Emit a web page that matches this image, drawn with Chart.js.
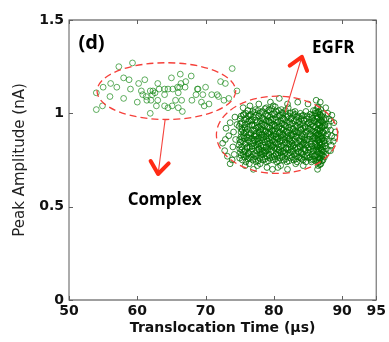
<!DOCTYPE html>
<html><head><meta charset="utf-8">
<script src="https://cdn.jsdelivr.net/npm/chart.js@4/dist/chart.umd.min.js"></script>
<style>html,body{margin:0;padding:0;background:#fff}</style>
</head><body>
<canvas id="c" width="389" height="342" style="width:389px;height:342px;display:block"></canvas>
<script>
const xTicks=[50,60,70,80,90,95];
const yTicks=[0,0.5,1,1.5];
const yTickLabels=['0','0.5','1','1.5'];
const xTitle='Translocation Time (µs)';
const yTitle='Peak Amplitude (nA)';
const complexPoints=[[57.3,1.25],[59.3,1.27],[54.0,1.11],[55.0,1.14],[54.0,1.02],[54.9,1.04],[56.1,1.16],[57.0,1.14],[56.0,1.09],[58.0,1.08],[58.8,1.18],[59.0,1.13],[60.0,1.06],[60.2,1.16],[61.1,1.18],[60.6,1.12],[61.3,1.09],[61.4,1.07],[61.9,1.12],[62.2,1.10],[62.0,1.07],[61.9,1.00],[62.8,1.04],[63.0,1.07],[63.2,1.13],[64.0,1.13],[64.0,1.10],[64.0,1.04],[65.0,1.19],[65.2,1.13],[65.1,1.04],[65.6,1.07],[66.0,1.11],[66.3,1.21],[66.4,1.16],[66.2,1.14],[66.0,1.03],[66.5,1.07],[66.6,1.01],[67.0,1.14],[67.9,1.20],[68.0,1.07],[68.6,1.10],[68.9,1.13],[69.4,1.06],[69.6,1.10],[70.0,1.14],[69.8,1.04],[70.9,1.10],[71.9,1.09],[72.2,1.17],[72.9,1.16],[73.4,1.08],[73.9,1.24],[74.6,1.12],[58.0,1.19],[63.0,1.16],[64.5,1.13],[65.9,1.14],[68.8,1.13],[70.5,1.05],[71.7,1.10],[62.3,1.12],[64.5,1.03],[72.7,1.07],[67.1,1.17],[60.8,1.10],[62.6,1.11]];
const egfrPoints=[
[72.5,0.84],[72.8,0.80],[73.2,0.77],[73.0,0.92],[73.6,0.95],[73.4,0.88],[74.0,0.82],[73.9,0.75],[74.3,0.98],[74.1,0.90],[73.6,0.73],[74.4,0.86],[72.9,0.86],[74.2,0.78],[74.6,0.94],
[75.8,0.72],[77.0,0.70],[78.0,0.73],[79.0,0.71],[79.8,0.70],[81.0,0.72],[82.0,0.70],[83.2,0.73],[84.3,0.72],[85.5,0.74],[86.4,0.70],[86.5,0.72],[86.6,0.75],[76.4,0.73],[77.6,0.72],[80.6,0.71],
[88.3,0.80],[88.7,0.85],[89.0,0.90],[88.8,0.95],[88.5,0.99],[88.9,0.87],
[75.5,1.03],[76.5,1.04],[77.8,1.05],[79.5,1.06],[80.8,1.08],[82.0,1.05],[83.5,1.06],[85.0,1.05],[86.2,1.07],[86.8,1.06],[87.6,1.03],
[75.0,0.76],[75.1,0.79],[74.9,0.83],[75.0,0.86],[75.2,0.90],[74.9,0.93],[75.1,0.97],[75.0,0.81],
[75.4,0.75],[75.5,0.78],[75.3,0.82],[75.4,0.85],[75.6,0.88],[75.4,0.91],[75.3,0.95],[75.5,0.99],[75.4,0.87],
[75.9,0.74],[76.0,0.77],[75.8,0.80],[75.9,0.84],[76.1,0.87],[75.9,0.90],[75.8,0.94],[76.0,0.97],[75.9,1.00],[76.1,0.82],[75.8,0.92],
[76.4,0.76],[76.3,0.79],[76.5,0.82],[76.4,0.85],[76.6,0.89],[76.3,0.93],[76.4,0.96],[76.5,0.99],[76.2,0.78],[76.4,0.87],
[76.9,0.75],[77.0,0.78],[76.8,0.81],[76.9,0.84],[77.1,0.88],[76.9,0.91],[76.8,0.94],[77.0,0.98],[76.9,1.01],[77.1,0.86],[76.7,0.96],
[77.4,0.74],[77.3,0.77],[77.5,0.80],[77.4,0.83],[77.6,0.86],[77.3,0.89],[77.4,0.92],[77.5,0.95],[77.4,0.99],[77.3,1.02],[77.6,0.82],[77.4,0.88],
[77.9,0.76],[78.0,0.79],[77.8,0.81],[77.9,0.84],[78.1,0.87],[77.9,0.90],[77.8,0.93],[78.0,0.96],[77.9,1.00],[78.1,0.78],[77.7,0.85],[78.0,0.91],
[78.4,0.75],[78.3,0.78],[78.5,0.80],[78.4,0.83],[78.6,0.86],[78.3,0.89],[78.4,0.91],[78.5,0.94],[78.4,0.97],[78.3,1.01],[78.6,0.82],[78.4,0.87],[78.2,0.93],
[78.9,0.74],[79.0,0.77],[78.8,0.80],[78.9,0.82],[79.1,0.85],[78.9,0.88],[78.8,0.90],[79.0,0.93],[78.9,0.96],[79.1,0.99],[78.9,1.03],[78.7,0.79],[79.0,0.86],
[79.4,0.76],[79.3,0.78],[79.5,0.81],[79.4,0.84],[79.6,0.87],[79.3,0.89],[79.4,0.92],[79.5,0.95],[79.4,0.98],[79.3,1.02],[79.6,0.83],[79.4,0.90],[79.2,0.96],
[79.9,0.75],[80.0,0.77],[79.8,0.80],[79.9,0.83],[80.1,0.86],[79.9,0.88],[79.8,0.91],[80.0,0.94],[79.9,0.97],[80.1,1.00],[79.9,1.04],[79.7,0.82],[80.0,0.89],
[80.4,0.74],[80.3,0.78],[80.5,0.81],[80.4,0.84],[80.6,0.86],[80.3,0.89],[80.4,0.92],[80.5,0.95],[80.4,0.98],[80.3,1.01],[80.6,0.79],[80.4,0.87],[80.2,0.93],
[80.9,0.76],[81.0,0.79],[80.8,0.82],[80.9,0.85],[81.1,0.87],[80.9,0.90],[80.8,0.93],[81.0,0.96],[80.9,0.99],[81.1,1.02],[80.7,0.80],[81.0,0.88],
[81.4,0.75],[81.3,0.77],[81.5,0.80],[81.4,0.83],[81.6,0.86],[81.3,0.89],[81.4,0.91],[81.5,0.94],[81.4,0.97],[81.3,1.00],[81.6,0.84],[81.2,0.92],
[81.9,0.74],[82.0,0.78],[81.8,0.81],[81.9,0.84],[82.1,0.87],[81.9,0.90],[81.8,0.93],[82.0,0.95],[81.9,0.98],[82.1,1.03],[81.7,0.79],[82.0,0.88],
[82.4,0.76],[82.3,0.79],[82.5,0.82],[82.4,0.85],[82.6,0.88],[82.3,0.91],[82.4,0.94],[82.5,0.97],[82.4,1.00],[82.6,0.81],[82.2,0.86],
[82.9,0.75],[83.0,0.78],[82.8,0.80],[82.9,0.83],[83.1,0.86],[82.9,0.89],[82.8,0.92],[83.0,0.96],[82.9,0.99],[83.1,1.01],[82.7,0.84],[83.0,0.90],
[83.4,0.74],[83.3,0.77],[83.5,0.81],[83.4,0.84],[83.6,0.87],[83.3,0.90],[83.4,0.93],[83.5,0.95],[83.4,0.98],[83.6,0.79],[83.2,0.88],
[83.9,0.76],[84.0,0.79],[83.8,0.82],[83.9,0.85],[84.1,0.88],[83.9,0.91],[83.8,0.94],[84.0,0.97],[83.9,1.00],[84.1,0.83],
[84.3,0.75],[84.2,0.78],[84.4,0.81],[84.3,0.84],[84.5,0.87],[84.2,0.89],[84.3,0.92],[84.4,0.96],[84.3,0.99],[84.5,0.86],
[84.7,0.74],[84.8,0.77],[84.6,0.80],[84.7,0.83],[84.9,0.86],[84.7,0.90],[84.6,0.93],[84.8,0.97],[84.7,1.01],
[85.1,0.76],[85.0,0.79],[85.2,0.82],[85.1,0.86],[85.3,0.89],[85.0,0.92],[85.1,0.95],[85.2,0.98],
[85.5,0.75],[85.6,0.78],[85.4,0.81],[85.5,0.85],[85.7,0.88],[85.5,0.91],[85.4,0.94],[85.6,0.99],
[85.9,0.77],[85.8,0.80],[86.0,0.84],[85.9,0.87],[86.0,0.90],[85.8,0.93],[85.9,0.96],[86.0,1.00],
[86.3,0.75],[86.2,0.78],[86.4,0.80],[86.3,0.83],[86.4,0.86],[86.2,0.88],[86.3,0.91],[86.4,0.94],[86.3,0.97],[86.2,1.00],[86.4,1.03],[86.3,0.82],
[86.6,0.74],[86.7,0.76],[86.5,0.79],[86.6,0.81],[86.7,0.84],[86.5,0.87],[86.6,0.89],[86.7,0.92],[86.6,0.95],[86.5,0.98],[86.6,1.01],[86.7,0.86],
[86.9,0.73],[86.8,0.76],[87.0,0.78],[86.9,0.81],[86.8,0.83],[87.0,0.86],[86.9,0.88],[86.8,0.91],[87.0,0.93],[86.9,0.96],[86.8,0.99],[86.9,1.02],
[87.2,0.75],[87.3,0.77],[87.1,0.80],[87.2,0.82],[87.3,0.85],[87.1,0.87],[87.2,0.90],[87.3,0.93],[87.2,0.95],[87.1,0.98],[87.2,1.00],
[87.6,0.78],[87.7,0.81],[87.5,0.84],[87.6,0.88],[87.7,0.91],[87.5,0.94],[87.6,0.97],[87.7,0.86],
[88.0,0.80],[88.1,0.85],[87.9,0.89],[88.0,0.93],[88.1,0.97],[87.9,1.00],
[88.4,0.83],[88.5,0.88],[88.3,0.91],[88.4,0.96],
[75.2,0.775],[75.3,0.805],[75.1,0.845],[75.2,0.875],[75.3,0.915],[75.1,0.945],[75.2,0.985],
[75.7,0.765],[75.6,0.795],[75.8,0.835],[75.7,0.865],[75.6,0.895],[75.8,0.925],[75.7,0.965],[75.6,0.995],
[76.2,0.755],[76.3,0.785],[76.1,0.815],[76.2,0.855],[76.3,0.885],[76.1,0.915],[76.2,0.955],[76.3,0.985],[76.2,1.015],
[76.7,0.765],[76.6,0.795],[76.8,0.825],[76.7,0.865],[76.6,0.895],[76.8,0.935],[76.7,0.965],[76.6,0.995],
[77.2,0.755],[77.3,0.785],[77.1,0.825],[77.2,0.855],[77.3,0.875],[77.1,0.905],[77.2,0.935],[77.3,0.965],[77.2,1.005],
[77.7,0.745],[77.6,0.775],[77.8,0.805],[77.7,0.835],[77.6,0.865],[77.8,0.895],[77.7,0.925],[77.6,0.955],[77.8,0.985],[77.7,1.015],
[78.2,0.765],[78.3,0.795],[78.1,0.825],[78.2,0.855],[78.3,0.885],[78.1,0.915],[78.2,0.945],[78.3,0.975],[78.2,1.005],
[78.7,0.755],[78.6,0.785],[78.8,0.815],[78.7,0.845],[78.6,0.875],[78.8,0.905],[78.7,0.935],[78.6,0.965],[78.8,0.995],[78.7,1.025],
[79.2,0.745],[79.3,0.775],[79.1,0.805],[79.2,0.835],[79.3,0.865],[79.1,0.895],[79.2,0.925],[79.3,0.955],[79.1,0.985],[79.2,1.015],
[79.7,0.765],[79.6,0.795],[79.8,0.825],[79.7,0.855],[79.6,0.875],[79.8,0.905],[79.7,0.935],[79.6,0.965],[79.8,0.995],[79.7,1.025],
[80.2,0.755],[80.3,0.785],[80.1,0.815],[80.2,0.845],[80.3,0.875],[80.1,0.905],[80.2,0.935],[80.3,0.965],[80.1,0.995],[80.2,1.035],
[80.7,0.745],[80.6,0.775],[80.8,0.805],[80.7,0.835],[80.6,0.865],[80.8,0.895],[80.7,0.925],[80.6,0.955],[80.8,0.985],[80.7,1.015],
[81.2,0.765],[81.3,0.795],[81.1,0.825],[81.2,0.855],[81.3,0.885],[81.1,0.915],[81.2,0.945],[81.3,0.975],[81.2,1.005],
[81.7,0.755],[81.6,0.785],[81.8,0.815],[81.7,0.845],[81.6,0.875],[81.8,0.905],[81.7,0.935],[81.6,0.965],[81.8,0.995],[81.7,1.015],
[82.2,0.745],[82.3,0.775],[82.1,0.805],[82.2,0.835],[82.3,0.865],[82.1,0.895],[82.2,0.925],[82.3,0.955],[82.1,0.985],
[82.7,0.765],[82.6,0.795],[82.8,0.825],[82.7,0.855],[82.6,0.885],[82.8,0.915],[82.7,0.945],[82.6,0.975],[82.8,1.005],
[83.2,0.755],[83.3,0.785],[83.1,0.815],[83.2,0.845],[83.3,0.875],[83.1,0.905],[83.2,0.935],[83.3,0.965],[83.1,0.995],
[83.7,0.765],[83.6,0.795],[83.8,0.825],[83.7,0.855],[83.6,0.895],[83.8,0.925],[83.7,0.955],[83.6,0.985],
[84.1,0.755],[84.0,0.795],[84.2,0.835],[84.1,0.875],[84.0,0.915],[84.2,0.945],[84.1,0.985],
[84.5,0.765],[84.6,0.805],[84.4,0.845],[84.5,0.885],[84.6,0.925],[84.4,0.965],
[84.9,0.775],[85.0,0.815],[84.8,0.855],[84.9,0.905],[85.0,0.945],[84.8,0.985],
[85.3,0.765],[85.2,0.805],[85.4,0.835],[85.3,0.875],[85.2,0.915],[85.4,0.955],[85.3,0.995],
[85.7,0.755],[85.8,0.795],[85.6,0.825],[85.7,0.865],[85.8,0.905],[85.6,0.945],[85.7,0.975],[85.8,1.015],
[86.1,0.745],[86.0,0.775],[86.2,0.805],[86.1,0.835],[86.0,0.865],[86.2,0.895],[86.1,0.925],[86.0,0.955],[86.2,0.985],[86.1,1.015],
[86.45,0.735],[86.5,0.765],[86.4,0.795],[86.45,0.825],[86.5,0.855],[86.4,0.885],[86.45,0.915],[86.5,0.945],[86.4,0.975],[86.45,1.005],[86.5,1.035],
[86.75,0.725],[86.7,0.755],[86.8,0.785],[86.75,0.815],[86.7,0.845],[86.8,0.875],[86.75,0.905],[86.7,0.935],[86.8,0.965],[86.75,0.995],
[87.05,0.745],[87.1,0.775],[87.0,0.805],[87.05,0.835],[87.1,0.865],[87.0,0.895],[87.05,0.925],[87.1,0.955],[87.0,0.985],
[87.4,0.765],[87.3,0.795],[87.5,0.825],[87.4,0.855],[87.3,0.895],[87.5,0.935],[87.4,0.965]
];

const toXY=a=>a.map(p=>({x:p[0],y:p[1]}));

const frame={
  id:'frame',
  afterDatasetsDraw(chart){
    const {ctx,chartArea:a,scales:{x,y}}=chart;
    ctx.save();
    const red='#f5403a';
    const ell=(cx,cy,rx,ry)=>{
      const px=x.getPixelForValue(cx),py=y.getPixelForValue(cy);
      const prx=Math.abs(x.getPixelForValue(cx+rx)-px),pry=Math.abs(y.getPixelForValue(cy+ry)-py);
      ctx.beginPath();ctx.ellipse(px,py,prx,pry,0,0,Math.PI*2);ctx.stroke();
    };
    ctx.strokeStyle=red;ctx.lineWidth=1.3;ctx.setLineDash([7,4]);
    ell(64.26,1.119,10.15,0.152);
    ell(80.47,0.885,8.88,0.207);
    ctx.setLineDash([]);
    const arrow=(x0,y0,x1,y1)=>{
      const a0=x.getPixelForValue(x0),b0=y.getPixelForValue(y0),a1=x.getPixelForValue(x1),b1=y.getPixelForValue(y1);
      ctx.strokeStyle=red;ctx.lineWidth=1.1;
      ctx.beginPath();ctx.moveTo(a0,b0);ctx.lineTo(a1,b1);ctx.stroke();
      const ang=Math.atan2(b1-b0,a1-a0),L=15,sp=0.65;
      ctx.lineWidth=4;ctx.lineCap='round';ctx.lineJoin='round';ctx.strokeStyle='#ff2a14';
      ctx.beginPath();
      ctx.moveTo(a1-L*Math.cos(ang-sp),b1-L*Math.sin(ang-sp));
      ctx.lineTo(a1,b1);
      ctx.lineTo(a1-L*Math.cos(ang+sp),b1-L*Math.sin(ang+sp));
      ctx.stroke();
    };
    arrow(64.07,0.964,63.05,0.675);
    arrow(81.69,1.009,84.1,1.303);
    ctx.fillStyle='#000';ctx.textAlign='center';ctx.textBaseline='middle';
    ctx.font='bold 17px "Open Sans"';
    ctx.fillText('Complex',x.getPixelForValue(64.0),y.getPixelForValue(0.536));
    ctx.fillText('EGFR',x.getPixelForValue(88.7),y.getPixelForValue(1.35));
    ctx.font='bold 20px "Open Sans"';
    ctx.fillText('(d)',x.getPixelForValue(53.3),y.getPixelForValue(1.375));
    ctx.strokeStyle='#808080';ctx.lineWidth=1.3;ctx.lineCap='butt';
    ctx.strokeRect(a.left,a.top,a.right-a.left,a.bottom-a.top);
    ctx.lineWidth=1;ctx.strokeStyle='#606060';
    const T=4;
    ctx.beginPath();
    xTicks.forEach(v=>{const p=Math.round(x.getPixelForValue(v))+0.5;ctx.moveTo(p,a.bottom);ctx.lineTo(p,a.bottom-T);ctx.moveTo(p,a.top);ctx.lineTo(p,a.top+T);});
    yTicks.forEach(v=>{const p=Math.round(y.getPixelForValue(v))+0.5;ctx.moveTo(a.left,p);ctx.lineTo(a.left+T,p);ctx.moveTo(a.right,p);ctx.lineTo(a.right-T,p);});
    ctx.stroke();
    ctx.restore();
  }
};

const tickFont={family:'DejaVu Sans',size:14,weight:'bold'};
new Chart(document.getElementById('c'),{
  type:'scatter',
  data:{datasets:[
    {label:'Complex',data:toXY(complexPoints),borderColor:'rgba(20,135,20,0.68)'},
    {label:'EGFR',data:toXY(egfrPoints),borderColor:'rgba(0,112,0,0.78)'}
  ]},
  options:{
    responsive:false,animation:false,
    layout:{padding:{left:0,right:11,top:20,bottom:0}},
    elements:{point:{radius:2.9,borderWidth:1,backgroundColor:'rgba(0,0,0,0)',pointStyle:'circle'}},
    plugins:{legend:{display:false},tooltip:{enabled:false}},
    scales:{
      x:{type:'linear',min:50,max:95,
        afterBuildTicks:s=>{s.ticks=xTicks.map(v=>({value:v}));},
        afterFit:s=>{s.height=42;},
        grid:{display:false,drawTicks:false},border:{display:false},
        ticks:{font:tickFont,color:'#111',padding:3,maxRotation:0,autoSkip:false},
        title:{display:true,text:xTitle,font:{family:'DejaVu Sans',size:14,weight:'bold'},color:'#111',padding:{top:0,bottom:5}}
      },
      y:{type:'linear',min:0,max:1.5,
        afterBuildTicks:s=>{s.ticks=yTicks.map(v=>({value:v}));},
        afterFit:s=>{s.width=69;},
        grid:{display:false,drawTicks:false},border:{display:false},
        ticks:{font:tickFont,color:'#111',padding:5,autoSkip:false,callback:(v)=>{const i=yTicks.indexOf(v);return i>=0?yTickLabels[i]:'';}},
        title:{display:true,text:yTitle,font:{family:'DejaVu Sans',size:15},color:'#222',padding:{top:11,bottom:0}}
      }
    }
  },
  plugins:[frame]
});
</script>
</body></html>
